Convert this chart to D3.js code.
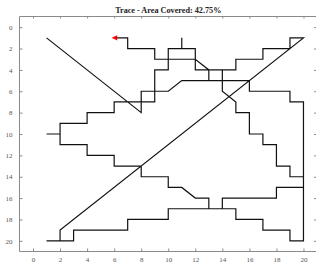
<!DOCTYPE html>
<html><head><meta charset="utf-8">
<script src="https://cdn.jsdelivr.net/npm/d3@7"></script>
<style>html,body{margin:0;padding:0;background:#fff;}svg{display:block;}</style>
</head><body>
<svg id="chart" width="316" height="265"></svg>
<script>
const titleText = "Trace - Area Covered: 42.75%";
const xTicks = [0,2,4,6,8,10,12,14,16,18,20];
const yTicks = [0,2,4,6,8,10,12,14,16,18,20];
// trace waypoints (grid cells)
const traceX = [1,8,8,6,6,4,4,2,2,1,2,2,4,4,6,6,8,8,10,10,11,12,13,13,10,10,7,7,3,3,1,2,2,20,19,19,17,17,15,15,12,12,11,11,11,10,10,9,9,8,8,10,11,16,16,19,19,20,20,20,19,19,17,17,15,15,13,14,14,18,18,20,20,19,19,18,18,17,17,16,16,15,15,14,14,13,13,13,12,9,9,7,7,6];
const traceY = [1,8,7,7,8,8,9,9,10,10,10,11,11,12,12,13,13,14,14,15,15,16,16,17,17,18,18,19,19,20,20,20,19,1,1,2,2,3,3,4,4,2,2,1,2,2,4,4,7,7,6,6,5,5,6,6,7,7,14,20,20,19,19,18,18,17,17,17,16,16,15,15,14,14,13,13,11,11,10,10,8,8,7,6,4,4,5,4,3,3,2,2,1,1];
const arrowPos = [6,1];

const svg = d3.select("#chart");
const L = 19.5, R = 317, T = 16.5, B = 251.5;
const x = d3.scaleLinear().domain([-1,21]).range([L, R]);
const y = d3.scaleLinear().domain([-1,21]).range([T, B]);

const axisColor = "#8a8a8a", labelColor = "#555";
const font = "'Liberation Serif','DejaVu Serif',serif";

// frame
svg.append("path").attr("d", `M${L},${B}V${T}H${R}V${B}Z`)
  .attr("fill","none").attr("stroke",axisColor).attr("stroke-width",1);

// bottom axis (ticks inward)
const gx = svg.append("g").attr("transform",`translate(0,${B})`)
  .call(d3.axisBottom(x).tickValues(xTicks).tickSizeInner(-3).tickSizeOuter(0).tickPadding(6));
gx.select(".domain").remove();
gx.selectAll("line").attr("stroke",axisColor);
gx.selectAll("text").attr("fill",labelColor).attr("font-family",font).attr("font-size",7);
// top ticks
const gxt = svg.append("g").attr("transform",`translate(0,${T})`)
  .call(d3.axisTop(x).tickValues(xTicks).tickSizeInner(-2).tickSizeOuter(0).tickFormat(""));
gxt.select(".domain").remove();
gxt.selectAll("line").attr("stroke",axisColor);

// left axis
const gy = svg.append("g").attr("transform",`translate(${L},0)`)
  .call(d3.axisLeft(y).tickValues(yTicks).tickSizeInner(-3).tickSizeOuter(0).tickPadding(7));
gy.select(".domain").remove();
gy.selectAll("line").attr("stroke",axisColor);
gy.selectAll("text").attr("fill",labelColor).attr("font-family",font).attr("font-size",7);
// right ticks
const gyr = svg.append("g").attr("transform",`translate(${R},0)`)
  .call(d3.axisRight(y).tickValues(yTicks).tickSizeInner(-3).tickSizeOuter(0).tickFormat(""));
gyr.select(".domain").remove();
gyr.selectAll("line").attr("stroke",axisColor);

// trace
const pts = traceX.map((v,i)=>[v, traceY[i]]);
const line = d3.line().x(d=>x(d[0])).y(d=>y(d[1]));
svg.append("path").datum(pts).attr("d", line)
  .attr("fill","none").attr("stroke","#111").attr("stroke-width",1.2).attr("stroke-linejoin","miter");

// arrow head (pointing left)
const ax = x(arrowPos[0]), ay = y(arrowPos[1]);
svg.append("path")
  .attr("d", `M${ax-2.5},${ay}L${ax+3},${ay-2.6}L${ax+3},${ay+2.6}Z`)
  .attr("fill","#ff0000").attr("stroke","none");

// title
svg.append("text").attr("x", (L+R)/2).attr("y", 12.5).attr("text-anchor","middle")
  .attr("font-family",font).attr("font-weight","bold").attr("font-size",8.2).attr("fill","#222")
  .text(titleText);
</script>
</body></html>
